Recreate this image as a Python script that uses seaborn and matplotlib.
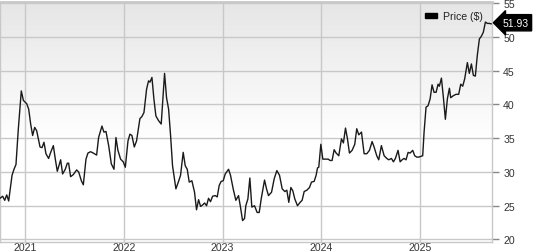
import numpy as np
import pandas as pd
import matplotlib
matplotlib.use("Agg")
import matplotlib.pyplot as plt
import matplotlib.transforms as mtransforms
from matplotlib.patches import Patch
from matplotlib.colors import LinearSegmentedColormap
import seaborn as sns

# decimal-year time stamps and closing prices
years = [
    2020.743, 2020.770, 2020.791, 2020.811, 2020.831, 2020.865, 2020.885, 2020.905, 2020.929, 2020.959,
    2020.980, 2021.014, 2021.034, 2021.054, 2021.074, 2021.095, 2021.115, 2021.149, 2021.169, 2021.189,
    2021.209, 2021.236, 2021.257, 2021.284, 2021.304, 2021.324, 2021.358, 2021.378, 2021.405, 2021.426,
    2021.439, 2021.459, 2021.486, 2021.520, 2021.541, 2021.568, 2021.588, 2021.615, 2021.635, 2021.662,
    2021.689, 2021.723, 2021.743, 2021.777, 2021.797, 2021.818, 2021.845, 2021.872, 2021.899, 2021.919,
    2021.939, 2021.966, 2021.993, 2022.014, 2022.041, 2022.061, 2022.081, 2022.105, 2022.128, 2022.162,
    2022.182, 2022.203, 2022.230, 2022.250, 2022.264, 2022.284, 2022.304, 2022.324, 2022.351, 2022.378,
    2022.412, 2022.432, 2022.453, 2022.473, 2022.493, 2022.527, 2022.554, 2022.574, 2022.601, 2022.622,
    2022.642, 2022.662, 2022.689, 2022.716, 2022.736, 2022.757, 2022.777, 2022.797, 2022.818, 2022.838,
    2022.858, 2022.878, 2022.899, 2022.926, 2022.946, 2022.966, 2022.986, 2023.007, 2023.027, 2023.061,
    2023.081, 2023.108, 2023.135, 2023.162, 2023.182, 2023.203, 2023.223, 2023.236, 2023.257, 2023.277,
    2023.297, 2023.324, 2023.351, 2023.372, 2023.392, 2023.426, 2023.446, 2023.466,
    2023.497, 2023.524, 2023.551, 2023.578, 2023.605, 2023.632, 2023.652, 2023.672, 2023.693, 2023.713,
    2023.733, 2023.760, 2023.787, 2023.807, 2023.828, 2023.855, 2023.882, 2023.902, 2023.929, 2023.949,
    2023.963, 2023.976, 2023.997, 2024.017, 2024.044, 2024.071, 2024.091, 2024.111, 2024.132, 2024.152,
    2024.179, 2024.206, 2024.226, 2024.247, 2024.267, 2024.287, 2024.314, 2024.341, 2024.361, 2024.382,
    2024.409, 2024.436, 2024.463, 2024.490, 2024.517, 2024.537, 2024.564, 2024.584, 2024.611, 2024.639,
    2024.666, 2024.686, 2024.713, 2024.733, 2024.753, 2024.780, 2024.801, 2024.821, 2024.841, 2024.861,
    2024.882, 2024.902, 2024.929, 2024.949, 2024.970, 2024.990, 2025.010, 2025.030, 2025.044, 2025.064,
    2025.084, 2025.105, 2025.125, 2025.145, 2025.166, 2025.186, 2025.199, 2025.220, 2025.240, 2025.260,
    2025.280, 2025.301, 2025.314, 2025.341, 2025.368, 2025.395, 2025.416, 2025.436, 2025.456, 2025.483,
    2025.503, 2025.524, 2025.544, 2025.564, 2025.584, 2025.605, 2025.625, 2025.645, 2025.666, 2025.686,
    2025.706, 2025.726,
]
price = [
    26.1, 26.4, 25.8, 26.6, 25.7, 29.5, 30.4, 31.1, 36.4, 42.0,
    40.6, 40.1, 39.3, 37.1, 35.4, 36.6, 36.1, 33.7, 33.6, 34.4,
    32.7, 32.0, 32.9, 33.9, 31.9, 30.1, 31.8, 29.7, 30.4, 31.3,
    31.3, 29.3, 29.6, 30.3, 30.0, 28.7, 28.1, 31.9, 32.8, 33.0,
    32.8, 32.5, 35.1, 36.8, 35.9, 36.0, 33.9, 31.2, 30.4, 35.1,
    33.2, 31.9, 31.5, 30.7, 34.6, 35.6, 35.4, 33.7, 34.6, 37.9,
    38.2, 38.8, 42.3, 43.5, 43.3, 44.0, 40.8, 38.3, 37.6, 37.1,
    44.6, 41.0, 39.3, 35.4, 30.9, 27.5, 28.6, 29.5, 32.9, 30.9,
    30.4, 28.5, 28.7, 27.0, 24.4, 25.9, 24.9, 25.1, 25.4, 25.0,
    26.1, 25.6, 26.4, 26.5, 26.3, 28.0, 28.6, 28.7, 29.7, 30.4,
    29.5, 27.5, 25.8, 26.5, 24.8, 22.8, 23.1, 25.0, 26.0, 29.1,
    24.8, 25.0, 24.0, 24.0, 26.0, 28.8, 27.5, 26.5,
    27.0, 29.0, 30.2, 29.5, 27.5, 27.1, 27.3, 25.5, 27.7, 27.2,
    26.0, 25.0, 25.5, 25.8, 27.1, 27.3, 27.7, 28.5, 28.6, 29.5,
    30.6, 30.7, 34.1, 31.9, 31.9, 31.9, 31.7, 31.7, 33.3, 32.8,
    32.4, 34.9, 34.3, 36.5, 34.9, 32.8, 33.2, 34.1, 36.4, 35.5,
    35.9, 32.7, 32.7, 33.2, 34.5, 33.7, 32.4, 31.8, 33.9, 32.4,
    32.0, 31.8, 32.0, 31.5, 32.0, 33.2, 31.5, 31.8, 32.0, 31.8,
    32.9, 32.8, 33.2, 32.4, 32.2, 32.2, 32.3, 32.4, 35.9, 39.6,
    39.8, 40.8, 42.9, 41.8, 41.8, 43.0, 42.7, 43.9, 41.0, 37.8,
    40.8, 42.4, 41.0, 41.3, 41.5, 41.5, 43.0, 42.7, 43.8, 46.2,
    44.6, 46.0, 44.3, 44.2, 47.3, 49.7, 50.1, 50.7, 52.2, 52.0,
    52.0, 51.93,
]
year_ticks = [2021, 2022, 2023, 2024, 2025]
price_ticks = [20, 25, 30, 35, 40, 45, 50, 55]
last_price = 51.93
series_name = "Price ($)"

df = pd.DataFrame({"year": years, "price": price})

sns.set_style("white")
plt.rcParams["font.family"] = ["Liberation Sans", "DejaVu Sans"]

fig = plt.figure(figsize=(5.33, 2.53), dpi=100)
ax = fig.add_axes([0.0, 0.0415, 0.9231, 0.9447])

# background gradient: grey at the top fading to white a bit below the middle
rows = np.linspace(0.0, 1.0, 256)
grad = np.clip(1.0 - rows / 0.58, 0.0, 1.0).reshape(-1, 1)
cmap = LinearSegmentedColormap.from_list("bg", ["#ffffff", "#e6e6e6"])
ax.imshow(grad, extent=[0, 1, 0, 1], transform=ax.transAxes, aspect="auto",
          cmap=cmap, origin="upper", zorder=0, vmin=0, vmax=1, interpolation="bilinear")

sns.lineplot(data=df, x="year", y="price", ax=ax, color="#1a1a1a", linewidth=1.0, zorder=3)

ax.set_xlim(2020.743, 2025.733)
ax.set_ylim(19.7, 55.1)
ax.set_xticks(year_ticks)
ax.set_xticklabels([str(y) for y in year_ticks])
ax.set_yticks(price_ticks)
ax.set_yticklabels([str(p) for p in price_ticks])
ax.set_xlabel("")
ax.set_ylabel("")
ax.grid(True, color="#c8c8c8", linewidth=1.0, zorder=1)
ax.set_axisbelow(True)

ax.yaxis.tick_right()
ax.tick_params(axis="y", which="both", right=True, left=False, length=5, width=1,
               color="#888888", labelsize=7.6, labelcolor="#333333", pad=3)
ax.tick_params(axis="x", which="both", bottom=False, length=0, labelsize=7.6,
               labelcolor="#333333", pad=0.5)
for s in ax.spines.values():
    s.set_color("#c8c8c8")
    s.set_linewidth(1.0)
ax.spines["top"].set_linewidth(2.0)

leg = ax.legend(handles=[Patch(facecolor="black", edgecolor="black", label=series_name)],
                loc="upper right", bbox_to_anchor=(0.995, 0.99), frameon=False, fontsize=7.6,
                handlelength=1.1, handleheight=0.35, handletextpad=0.6, borderaxespad=0.2)
for t in leg.get_texts():
    t.set_color("#222222")

trans = mtransforms.blended_transform_factory(ax.transAxes, ax.transData)
ax.text(1.021, 52.1, f"{last_price:.2f}", transform=trans, ha="left", va="center",
        color="white", fontsize=7.5, clip_on=False, zorder=5,
        bbox=dict(boxstyle="larrow,pad=0.3", fc="black", ec="black"))

fig.savefig("out.png", dpi=100)
